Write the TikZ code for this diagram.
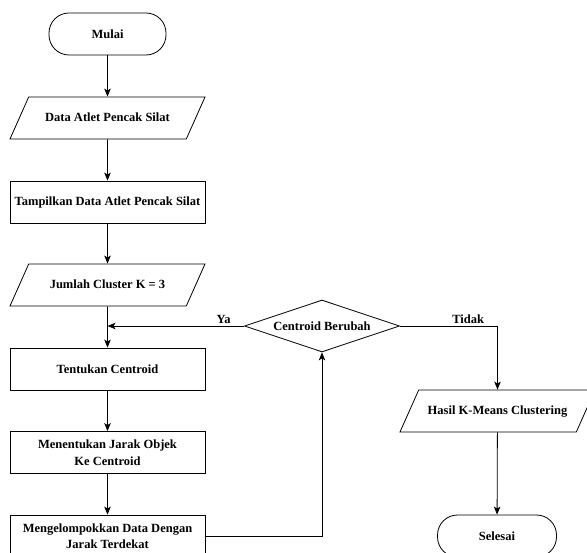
\documentclass[tikz,border=0pt]{standalone}
\usepackage{fontspec}
\setmainfont{Liberation Serif}
\usepackage{tikz}
\usetikzlibrary{shapes,arrows.meta,calc}

\begin{document}
\begin{tikzpicture}[x=1pt,y=-1pt]
\tikzset{
	base node/.style = {draw, line width=0.8pt, inner sep=0pt, align=center,
		font=\fontsize{12.5}{16.5}\selectfont\bfseries},
	term node/.style = {base node, rectangle, rounded corners=20pt,
		minimum width=117pt, minimum height=42pt},
	proc node/.style = {base node, rectangle, minimum width=195pt, minimum height=42pt},
	io node/.style = {base node, trapezium, trapezium left angle=66,
		trapezium right angle=114, trapezium stretches body,
		text height=9.5pt, text depth=2.5pt, inner ysep=15pt,
		minimum width=195pt},
	dec node/.style = {base node, diamond, aspect=3,
		minimum width=155pt, minimum height=52pt},
	flow/.style = {line width=0.8pt, -{Stealth[length=8pt,width=6.5pt,inset=2pt]}},
	lbl/.style = {above, inner sep=2pt, font=\fontsize{12.5}{14}\selectfont\bfseries},
}
\useasboundingbox (0,0) rectangle (587,553);

% main column
\node(0)[term node] at (107.5,34) {Mulai};
\node(1)[io node] at (107.5,118) {Data Atlet Pencak Silat};
\node(2)[proc node] at (107.5,202) {Tampilkan Data Atlet Pencak Silat};
\node(3)[io node] at (107.5,285) {Jumlah Cluster K = 3};
\node(4)[proc node] at (107.5,369) {Tentukan Centroid};
\node(5)[proc node] at (107.5,452.5) {Menentukan Jarak Objek\\Ke Centroid};
\node(6)[proc node] at (107.5,536) {Mengelompokkan Data Dengan\\Jarak Terdekat};

% decision and end
\node(7)[dec node] at (322,326) {Centroid Berubah};
\node(8)[io node] at (497.5,411) {Hasil K-Means Clustering};
\node(9)[term node, minimum width=119pt] at (497,536) {Selesai};

\coordinate(j) at (4.north |- 7.west);

\foreach \a/\b in {0/1,1/2,2/3,3/4,4/5,5/6,8/9}
	\draw[flow] (\a) -- (\b);

\draw[flow] (6.east) -| (7.south);
\draw[flow] (7.west) -- node[lbl, pos=0.15]{Ya} (j);
\draw[flow] (7.east) -| node[lbl, pos=0.35]{Tidak} (8.north);

\end{tikzpicture}
\end{document}
